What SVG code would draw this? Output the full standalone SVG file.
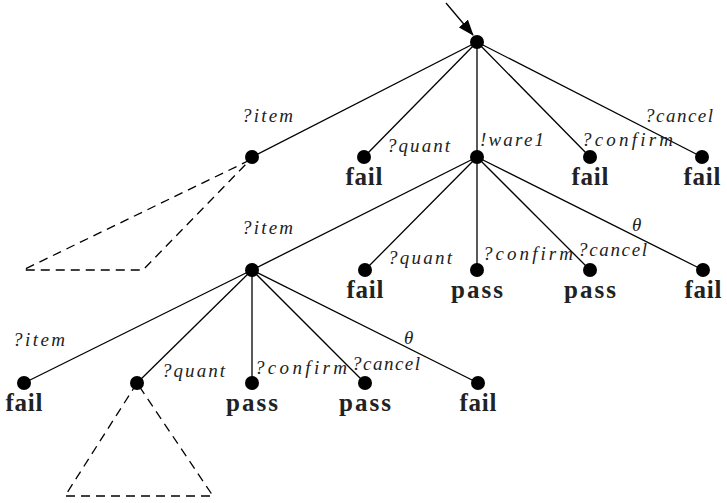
<svg xmlns="http://www.w3.org/2000/svg" width="727" height="503" viewBox="0 0 727 503">
  <style>
    .edge { stroke: #000; stroke-width: 1.3; fill: none; }
    .dash { stroke: #000; stroke-width: 1.3; fill: none; stroke-dasharray: 9 6; }
    .node { fill: #000; }
    .lbl { font-family: "Liberation Serif", "DejaVu Serif", serif; font-style: italic; font-size: 19px; fill: #222; }
    .res { font-family: "Liberation Serif", "DejaVu Serif", serif; font-weight: bold; font-size: 25px; fill: #222; text-anchor: middle; }
  </style>
  <defs>
    <marker id="arrow" markerWidth="16" markerHeight="12" refX="15" refY="6" orient="auto" markerUnits="userSpaceOnUse">
      <path d="M0,0 L16,6 L0,12 Z" fill="#000"/>
    </marker>
  </defs>

  <!-- connectors -->
  <g id="connectors">
    <line class="edge" x1="446" y1="3" x2="473" y2="35" marker-end="url(#arrow)"/>
    <!-- root fan-out -->
    <line class="edge" x1="477" y1="42" x2="252" y2="157"/>
    <line class="edge" x1="477" y1="42" x2="364" y2="157"/>
    <line class="edge" x1="477" y1="42" x2="477" y2="157"/>
    <line class="edge" x1="477" y1="42" x2="590" y2="157"/>
    <line class="edge" x1="477" y1="42" x2="702" y2="157"/>
    <!-- !ware1 fan-out -->
    <line class="edge" x1="477" y1="157" x2="252" y2="270"/>
    <line class="edge" x1="477" y1="157" x2="365" y2="270"/>
    <line class="edge" x1="477" y1="157" x2="477" y2="270"/>
    <line class="edge" x1="477" y1="157" x2="590" y2="270"/>
    <line class="edge" x1="477" y1="157" x2="703" y2="270"/>
    <!-- ?item fan-out -->
    <line class="edge" x1="252" y1="270" x2="24" y2="383"/>
    <line class="edge" x1="252" y1="270" x2="137" y2="383"/>
    <line class="edge" x1="252" y1="270" x2="252" y2="383"/>
    <line class="edge" x1="252" y1="270" x2="365" y2="383"/>
    <line class="edge" x1="252" y1="270" x2="478" y2="383"/>
    <!-- collapsed subtrees -->
    <path class="dash" d="M250,160 L23,270 L143,270 L250,160"/>
    <path class="dash" d="M137,383 L65,496 L213,496 L137,383"/>
  </g>

  <!-- level 0 -->
  <g id="root"><circle class="node" cx="477" cy="42" r="7"/></g>

  <!-- level 1 -->
  <g id="n1-item"><circle class="node" cx="252" cy="157" r="7"/>
    <text class="lbl" x="242" y="122" textLength="51" lengthAdjust="spacing">?item</text></g>
  <g id="n1-quant"><circle class="node" cx="364" cy="157" r="7"/>
    <text class="lbl" x="387" y="152" textLength="63" lengthAdjust="spacing">?quant</text>
    <text class="res" x="364" y="185" textLength="37" lengthAdjust="spacing">fail</text></g>
  <g id="n1-ware1"><circle class="node" cx="477" cy="157" r="7"/>
    <text class="lbl" x="480" y="146" textLength="64" lengthAdjust="spacing">!ware1</text></g>
  <g id="n1-confirm"><circle class="node" cx="590" cy="157" r="7"/>
    <text class="lbl" x="582" y="146" textLength="91" lengthAdjust="spacing">?confirm</text>
    <text class="res" x="590" y="185" textLength="37" lengthAdjust="spacing">fail</text></g>
  <g id="n1-cancel"><circle class="node" cx="702" cy="157" r="7"/>
    <text class="lbl" x="645" y="122" textLength="68" lengthAdjust="spacing">?cancel</text>
    <text class="res" x="702" y="185" textLength="37" lengthAdjust="spacing">fail</text></g>

  <!-- level 2 -->
  <g id="n2-item"><circle class="node" cx="252" cy="270" r="7"/>
    <text class="lbl" x="242" y="234" textLength="51" lengthAdjust="spacing">?item</text></g>
  <g id="n2-quant"><circle class="node" cx="365" cy="270" r="7"/>
    <text class="lbl" x="388" y="264" textLength="64" lengthAdjust="spacing">?quant</text>
    <text class="res" x="365" y="298" textLength="37" lengthAdjust="spacing">fail</text></g>
  <g id="n2-confirm"><circle class="node" cx="477" cy="270" r="7"/>
    <text class="lbl" x="483" y="260" textLength="90" lengthAdjust="spacing">?confirm</text>
    <text class="res" x="477" y="298" textLength="52" lengthAdjust="spacing">pass</text></g>
  <g id="n2-cancel"><circle class="node" cx="590" cy="270" r="7"/>
    <text class="lbl" x="578" y="256" textLength="69" lengthAdjust="spacing">?cancel</text>
    <text class="res" x="590" y="298" textLength="52" lengthAdjust="spacing">pass</text></g>
  <g id="n2-theta"><circle class="node" cx="703" cy="270" r="7"/>
    <text class="lbl" x="632" y="231">θ</text>
    <text class="res" x="703" y="298" textLength="37" lengthAdjust="spacing">fail</text></g>

  <!-- level 3 -->
  <g id="n3-item"><circle class="node" cx="24" cy="383" r="7"/>
    <text class="lbl" x="13" y="346" textLength="52" lengthAdjust="spacing">?item</text>
    <text class="res" x="24" y="411" textLength="37" lengthAdjust="spacing">fail</text></g>
  <g id="n3-quant"><circle class="node" cx="137" cy="383" r="7"/>
    <text class="lbl" x="162" y="377" textLength="63" lengthAdjust="spacing">?quant</text></g>
  <g id="n3-confirm"><circle class="node" cx="252" cy="383" r="7"/>
    <text class="lbl" x="255" y="374" textLength="92" lengthAdjust="spacing">?confirm</text>
    <text class="res" x="252" y="411" textLength="52" lengthAdjust="spacing">pass</text></g>
  <g id="n3-cancel"><circle class="node" cx="365" cy="383" r="7"/>
    <text class="lbl" x="352" y="370" textLength="68" lengthAdjust="spacing">?cancel</text>
    <text class="res" x="365" y="411" textLength="52" lengthAdjust="spacing">pass</text></g>
  <g id="n3-theta"><circle class="node" cx="478" cy="383" r="7"/>
    <text class="lbl" x="404" y="344">θ</text>
    <text class="res" x="478" y="411" textLength="37" lengthAdjust="spacing">fail</text></g>
</svg>
